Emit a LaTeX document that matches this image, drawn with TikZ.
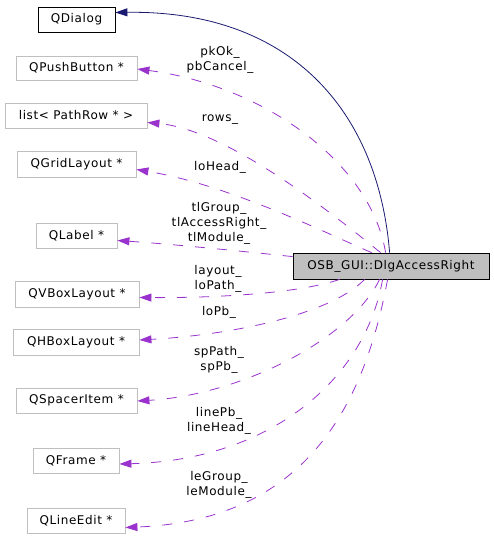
\documentclass[tikz,border=0pt]{standalone}
\usepackage{fontspec}
\setmainfont{DejaVu Sans}[LetterSpace=5]
\usetikzlibrary{arrows.meta,calc}
\definecolor{edgepurple}{HTML}{9A32CD}
\definecolor{navyedge}{HTML}{191970}
\definecolor{boxgray}{HTML}{BFBFBF}
\tikzset{
  cls/.style={draw=boxgray, line width=0.8pt, fill=white, inner sep=0pt, minimum height=25pt, font=\fontsize{12}{15}\selectfont, anchor=center},
  base/.style={draw=black, line width=0.8pt, fill=white, inner sep=0pt, minimum height=25pt, font=\fontsize{12}{15}\selectfont, anchor=center},
  mainbox/.style={draw=black, line width=0.8pt, fill=boxgray, inner sep=0pt, minimum height=26pt, font=\fontsize{12}{15}\selectfont},
  uses/.style={draw=edgepurple, line width=0.8pt, dash pattern=on 10pt off 12pt, -{Triangle[length=12pt,width=8pt,fill=edgepurple]}},
  inherit/.style={draw=navyedge, line width=0.8pt, -{Triangle[length=12pt,width=8pt,fill=navyedge]}},
  lbl/.style={align=center, inner sep=0pt, font=\fontsize{12}{15}\selectfont}
}
\begin{document}
\begin{tikzpicture}[x=1pt,y=-1pt]
\useasboundingbox (0,0) rectangle (493,549);
% nodes
\node[base, minimum width=77pt] (qdialog) at (76.5,19.5) {QDialog};
\node[cls, minimum width=121pt, minimum height=24pt] (qpush) at (76.5,68) {QPushButton *};
\node[cls, minimum width=142pt] (list) at (76,115.5) {list< PathRow * >};
\node[cls, minimum width=119pt, minimum height=26pt] (qgrid) at (76.5,164) {QGridLayout *};
\node[cls, minimum width=81pt] (qlabel) at (76.5,235.5) {QLabel *};
\node[cls, minimum width=124pt, minimum height=26pt] (qvbox) at (77,294) {QVBoxLayout *};
\node[cls, minimum width=126pt, minimum height=26pt] (qhbox) at (76,342) {QHBoxLayout *};
\node[cls, minimum width=121pt] (qspacer) at (76.5,400.5) {QSpacerItem *};
\node[cls, minimum width=86pt] (qframe) at (76,460.5) {QFrame *};
\node[cls, minimum width=98pt] (qline) at (76,520.5) {QLineEdit *};
\node[mainbox, minimum width=196pt] (dlg) at (391,266) {OSB\_GUI::DlgAccessRight};
% anchor coordinates on main node
\coordinate (t1) at ($(dlg.north west)+(97,0)$);
\coordinate (t2) at ($(dlg.north west)+(93,0)$);
\coordinate (t3) at ($(dlg.north west)+(88,0)$);
\coordinate (t4) at ($(dlg.north west)+(79,0)$);
\coordinate (b1) at ($(dlg.south west)+(47,0)$);
\coordinate (b2) at ($(dlg.south west)+(72,0)$);
\coordinate (b3) at ($(dlg.south west)+(87,0)$);
\coordinate (b4) at ($(dlg.south west)+(90,0)$);
\coordinate (b5) at ($(dlg.south west)+(95,0)$);
\coordinate (lw) at ($(dlg.north west)+(0,4)$);
% target points
\coordinate (e0) at ($(qdialog.east)+(0,-7)$);
\coordinate (e1) at ($(qpush.east)+(0,1)$);
\coordinate (e2) at ($(list.east)+(0,7)$);
\coordinate (e3) at ($(qgrid.east)+(0,5.5)$);
\coordinate (e4) at ($(qlabel.east)+(0,5)$);
\coordinate (e5) at ($(qvbox.east)+(0,3.5)$);
\coordinate (e6) at ($(qhbox.east)+(0,-2)$);
\coordinate (e7) at ($(qspacer.east)+(0,0.5)$);
\coordinate (e8) at ($(qframe.east)+(0,3.5)$);
\coordinate (e9) at ($(qline.east)+(0,7)$);
% edges
\draw[inherit] (t1) .. controls (378,110) and (290,10) .. (e0);
\draw[uses] (t2) .. controls (370,160) and (260,85) .. (e1);
\draw[uses] (t3) .. controls (340,220) and (230,130) .. (e2);
\draw[uses] (t4) .. controls (330,235) and (230,185) .. (e3);
\draw[uses] (lw) .. controls (240,251) and (170,244) .. (e4);
\draw[uses] (b1) .. controls (300,293) and (220,298) .. (e5);
\draw[uses] (b2) .. controls (330,315) and (230,335) .. (e6);
\draw[uses] (b3) .. controls (350,340) and (240,395) .. (e7);
\draw[uses] (b4) .. controls (365,380) and (270,460) .. (e8);
\draw[uses] (b5) .. controls (365,400) and (310,520) .. (e9);
% labels
\node[lbl] (l1) at (220,59.5) {pkOk\_\\pbCancel\_};
\node[lbl] (l2) at (220,120) {rows\_};
\node[lbl] (l3) at (220,167) {loHead\_};
\node[lbl] (l4) at (219,223) {tlGroup\_\\tlAccessRight\_\\tlModule\_};
\node[lbl] (l5) at (218,279) {layout\_\\loPath\_};
\node[lbl] (l6) at (219,312) {loPb\_};
\node[lbl] (l7) at (219,360) {spPath\_\\spPb\_};
\node[lbl] (l8) at (219,421) {linePb\_\\lineHead\_};
\node[lbl] (l9) at (219,485) {leGroup\_\\leModule\_};
\end{tikzpicture}
\end{document}
